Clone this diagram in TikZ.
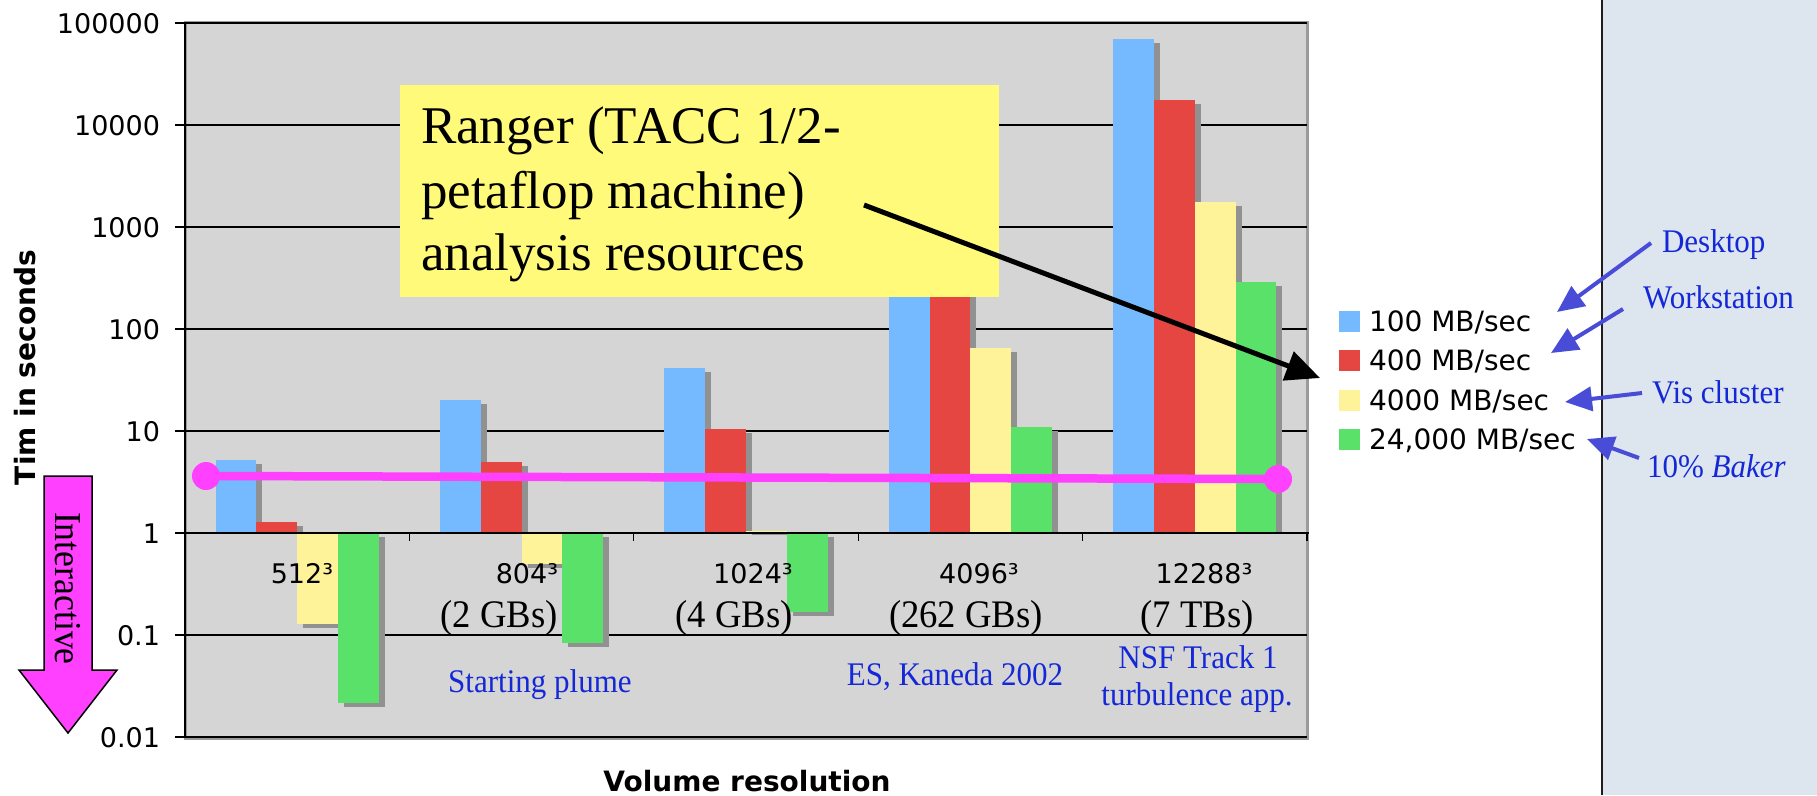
\documentclass[tikz,border=0pt]{standalone}
\usepackage{fontspec}
\setmainfont{Liberation Serif}[FakeStretch=0.94]
\newfontfamily\notefont{Liberation Serif}
\newfontfamily\chartsans{DejaVu Sans}
\usetikzlibrary{arrows.meta}

\definecolor{panelbg}{RGB}{221,229,238}
\definecolor{panelline}{RGB}{30,30,30}
\definecolor{plotbg}{RGB}{213,213,213}
\definecolor{framegray}{RGB}{155,155,155}
\definecolor{shadowgray}{RGB}{145,145,145}
\definecolor{serA}{RGB}{117,185,255}
\definecolor{serB}{RGB}{230,70,65}
\definecolor{serC}{RGB}{255,243,153}
\definecolor{serD}{RGB}{90,225,105}
\definecolor{pinkline}{RGB}{255,64,255}
\definecolor{notebox}{RGB}{255,250,122}
\definecolor{labelblue}{RGB}{20,40,215}
\definecolor{arrowblue}{RGB}{72,76,214}

% chart geometry (1 unit = 1pt, y grows downwards)
\def\catw{224.4}
\def\barw{40.8}

% one bar with its drop shadow; #1 left x, #2 log10 of the value, #3 colour
\newcommand\drawbar[3]{%
  \pgfmathsetmacro\yy{533-102*(#2)}%
  \pgfmathtruncatemacro\ispos{(#2)>0 ? 1 : 0}%
  \ifnum\ispos=1
    \fill[shadowgray] ({#1+6},{\yy+4}) rectangle ({#1+\barw+6},533);
  \else
    \fill[shadowgray] ({#1+6},537) rectangle ({#1+\barw+6},{\yy+4});
  \fi
  \fill[#3] (#1,533) rectangle ({#1+\barw},\yy);
}

\newcommand\sansreg{\chartsans\fontsize{27}{32}\selectfont}
\newcommand\sanslegend{\chartsans\fontsize{28}{33}\selectfont}
\newcommand\sansbold{\chartsans\bfseries\fontsize{28}{33}\selectfont}

\begin{document}
\begin{tikzpicture}[x=1pt,y=-1pt,
  lbl/.style={inner sep=0pt, outer sep=0pt},
  ticklbl/.style={lbl, font=\sansreg, anchor=base east},
  catnum/.style={lbl, font=\sansreg, anchor=base},
  catsize/.style={lbl, font=\fontsize{39}{44}\selectfont, anchor=base},
  bluelbl/.style={lbl, font=\fontsize{33}{38}\selectfont, text=labelblue},
  legtext/.style={lbl, font=\sanslegend, anchor=base west},
  axtitle/.style={lbl, font=\sansbold},
  notetext/.style={lbl, font=\notefont\fontsize{53}{63}\selectfont, anchor=base west},
  gridline/.style={line width=2pt, black},
  pinkdot/.style={circle, fill=pinkline, minimum size=28pt, inner sep=0pt},
  bluearrow/.style={line width=4pt, arrowblue, -{Triangle[length=27pt,width=24pt]}},
]
\useasboundingbox (0,0) rectangle (1817,795);
\fill[white] (0,0) rectangle (1817,795);

% side panel
\fill[panelbg] (1602,0) rectangle (1817,795);
\draw[line width=2.5pt, panelline] (1602,0) -- (1602,795);

% plot area
\fill[plotbg] (185,23) rectangle (1307,737);
\draw[line width=3pt, framegray] (185,22) rectangle (1307.5,738);
\foreach \i in {0,1,2,3,4,6,7} {
  \draw[gridline] (185,{23+102*\i}) -- (1307,{23+102*\i});
}

% bars: log10 values per resolution, series 100 / 400 / 4000 / 24000 MB/sec
\foreach \k/\a/\b/\c/\d in {
    0/0.716/0.108/-0.892/-1.664,
    1/1.301/0.699/-0.301/-1.08,
    2/1.613/1.017/0.017/-0.77,
    3/3.418/2.816/1.816/1.037,
    4/4.845/4.243/3.243/2.465} {
  \pgfmathsetmacro\xs{185+\catw*\k+\catw/2-2*\barw}
  \pgfmathsetmacro\xb{\xs+\barw}
  \pgfmathsetmacro\xc{\xs+2*\barw}
  \pgfmathsetmacro\xd{\xs+3*\barw}
  \drawbar{\xs}{\a}{serA}
  \drawbar{\xb}{\b}{serB}
  \drawbar{\xc}{\c}{serC}
  \drawbar{\xd}{\d}{serD}
}

% axes
\draw[line width=1.2pt, black] (185,533) -- (1309,533);
\draw[line width=1.5pt, black] (185,23) -- (185,737);
\foreach \i in {0,...,7} {
  \draw[line width=1.5pt, black] (175,{23+102*\i}) -- (185,{23+102*\i});
}
\foreach \k in {1,...,5} {
  \draw[line width=1.2pt, black] ({185+\catw*\k},533) -- ({185+\catw*\k},541);
}

% value axis labels
\foreach \i/\lab in {0/100000,1/10000,2/1000,3/100,4/10,5/1,6/0.1,7/0.01} {
  \node[ticklbl] (tick\i) at (160,{33+102*\i}) {\lab};
}

% category labels
\node[catnum] (res512)   at (302,583)  {512³};
\node[catnum] (res804)   at (527,583)  {804³};
\node[catnum] (res1024)  at (753,583)  {1024³};
\node[catnum] (res4096)  at (979,583)  {4096³};
\node[catnum] (res12288) at (1204,583) {12288³};

\node[catsize] (size804)   at (499,627)  {(2 GBs)};
\node[catsize] (size1024)  at (734,627)  {(4 GBs)};
\node[catsize] (size4096)  at (966,627)  {(262 GBs)};
\node[catsize] (size12288) at (1197,627) {(7 TBs)};

\node[bluelbl, anchor=base] (plume)  at (540,692)  {Starting plume};
\node[bluelbl, anchor=base] (kaneda) at (955,685)  {ES, Kaneda 2002};
\node[bluelbl, anchor=base] (nsfA)   at (1198,668) {NSF Track 1};
\node[bluelbl, anchor=base] (nsfB)   at (1197,705) {turbulence app.};

% axis titles
\node[axtitle, rotate=90, anchor=base west] (ytitle) at (35,485) {Tim in seconds};
\node[axtitle, anchor=base] (xtitle) at (747,791) {Volume resolution};

% interactive threshold line
\node[pinkdot] (thrL) at (206,476) {};
\node[pinkdot] (thrR) at (1278,479) {};
\draw[line width=8.5pt, pinkline] (thrL.center) -- (thrR.center);

% interactive block arrow
\filldraw[fill=pinkline, draw=black, line width=1.5pt]
  (44,476) -- (92,476) -- (92,670) -- (117,670) -- (68,733) -- (19,670) -- (44,670) -- cycle;
\node[lbl, font=\fontsize{38}{44}\selectfont, rotate=-90, anchor=base west] (interactive) at (55.5,512) {Interactive};

% legend
\foreach \j/\col/\yb/\txt in {0/serA/331/{100 MB/sec}, 1/serB/370.5/{400 MB/sec}, 2/serC/410/{4000 MB/sec}, 3/serD/449.5/{24,000 MB/sec}} {
  \fill[\col] (1339,{\yb-20.5}) rectangle (1360,{\yb+0.5});
  \node[legtext] (leg\j) at (1369,\yb) {\txt};
}

% call-out box
\node[lbl, fill=notebox, minimum width=599pt, minimum height=212pt, anchor=north west] (notebox) at (400,85) {};
\node[notetext] (noteA) at (421,143) {Ranger (TACC 1/2-};
\node[notetext] (noteB) at (421,208) {petaflop machine)};
\node[notetext] (noteC) at (421,270) {analysis resources};
\coordinate (noteStart) at (864,205);
\coordinate (noteTip) at (1320,378);
\draw[line width=5pt, black, -{Triangle[length=34pt,width=30pt]}] (noteStart) -- (noteTip);

% machine annotations
\node[bluelbl, anchor=base west] (desk) at (1662,252) {Desktop};
\node[bluelbl, anchor=base west] (work) at (1643,308) {Workstation};
\node[bluelbl, anchor=base west] (vis)  at (1652,403) {Vis cluster};
\node[bluelbl, anchor=base west] (baker) at (1647,477) {10\% \textit{Baker}};
\coordinate (deskFrom) at (1651,243);  \coordinate (deskTip) at (1557,312);
\coordinate (workFrom) at (1623,309);  \coordinate (workTip) at (1551,353);
\coordinate (visFrom)  at (1642,393);  \coordinate (visTip)  at (1565,402);
\coordinate (bakerFrom) at (1639,458); \coordinate (bakerTip) at (1587,439);
\draw[bluearrow] (deskFrom) -- (deskTip);
\draw[bluearrow] (workFrom) -- (workTip);
\draw[bluearrow] (visFrom) -- (visTip);
\draw[bluearrow] (bakerFrom) -- (bakerTip);
\end{tikzpicture}
\end{document}
